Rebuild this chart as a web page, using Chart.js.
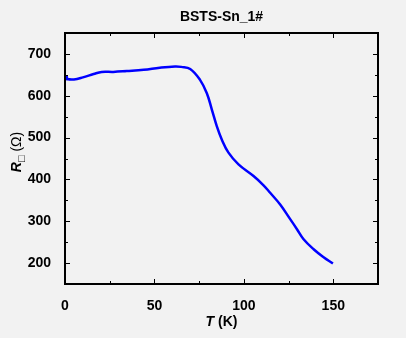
<!DOCTYPE html>
<html>
<head>
<meta charset="utf-8">
<script src="https://cdn.jsdelivr.net/npm/chart.js@4"></script>
<style>
  html, body { margin: 0; padding: 0; background: #f2f2f2; }
  #wrap { width: 406px; height: 338px; }
</style>
</head>
<body>
<div id="wrap"><canvas id="grafico"></canvas></div>
<script>
const titulo = "BSTS-Sn_1#";
const temperaturas = [0.8, 1.0, 1.5, 5, 10, 16, 20.5, 27, 34.5, 44, 53, 61.5, 65, 70, 75.5, 79.3, 82.1, 84.9, 87.7, 91.4, 97, 105.4, 111, 114.7, 120.3, 125.9, 129.7, 133.4, 139, 144.6, 149.8];
const resistencias = [637, 645, 640, 639, 644, 652, 657, 657, 659, 662, 667, 670, 669, 664, 638, 606, 567, 527, 495, 464, 436, 408, 386, 368, 340, 305, 281, 257, 233, 214, 199];
const ticksX = [0, 50, 100, 150];
const ticksY = [200, 300, 400, 500, 600, 700];

const fuente = "'Liberation Sans', Arial, sans-serif";

// marco, ticks hacia adentro y titulos de ejes
const marco = {
  id: "marco",
  afterDraw(chart) {
    const { ctx, chartArea: a, scales } = chart;
    ctx.save();
    ctx.strokeStyle = "#000";
    ctx.lineWidth = 1;
    for (let v = 0; v <= 175; v += 25) {
      const px = Math.round(scales.x.getPixelForValue(v)) + 0.5;
      const len = v % 50 === 0 ? 5 : 3;
      ctx.beginPath();
      ctx.moveTo(px, a.bottom); ctx.lineTo(px, a.bottom - len);
      ctx.moveTo(px, a.top); ctx.lineTo(px, a.top + len);
      ctx.stroke();
    }
    for (let v = 150; v <= 750; v += 50) {
      const py = Math.round(scales.y.getPixelForValue(v)) + 0.5;
      const len = v % 100 === 0 ? 5 : 3;
      ctx.beginPath();
      ctx.moveTo(a.left, py); ctx.lineTo(a.left + len, py);
      ctx.moveTo(a.right, py); ctx.lineTo(a.right - len, py);
      ctx.stroke();
    }
    ctx.lineWidth = 2;
    ctx.strokeRect(a.left, a.top, a.right - a.left, a.bottom - a.top);

    ctx.fillStyle = "#000";
    ctx.textBaseline = "middle";
    // titulo
    ctx.font = "bold 14px " + fuente;
    ctx.textAlign = "center";
    ctx.fillText(titulo, (a.left + a.right) / 2, 17);

    // T (K)
    const cx = (a.left + a.right) / 2;
    ctx.font = "italic bold 14px " + fuente;
    const wT = ctx.measureText("T").width;
    ctx.font = "bold 14px " + fuente;
    const wK = ctx.measureText(" (K)").width;
    let x0 = cx - (wT + wK) / 2;
    ctx.textAlign = "left";
    ctx.font = "italic bold 14px " + fuente;
    ctx.fillText("T", x0, 322);
    ctx.font = "bold 14px " + fuente;
    ctx.fillText(" (K)", x0 + wT, 322);

    // R□ (Ω)
    ctx.translate(17, 152);
    ctx.rotate(-Math.PI / 2);
    ctx.font = "italic bold 14px " + fuente;
    const wR = ctx.measureText("R").width;
    ctx.font = "bold 11px " + fuente;
    const wS = ctx.measureText("□").width;
    ctx.font = "14px " + fuente;
    const wO = ctx.measureText(" (Ω)").width;
    x0 = -(wR + wS + wO) / 2;
    ctx.font = "italic bold 14px " + fuente;
    ctx.fillText("R", x0, 0);
    ctx.font = "bold 11px " + fuente;
    ctx.fillText("□", x0 + wR, 5);
    ctx.font = "14px " + fuente;
    ctx.fillText(" (Ω)", x0 + wR + wS, 0);
    ctx.restore();
  }
};

const config = {
  type: "line",
  data: {
    datasets: [{
      data: temperaturas.map((t, i) => ({ x: t, y: resistencias[i] })),
      borderColor: "#0000ff",
      borderWidth: 2.5,
      pointRadius: 0,
      tension: 0.4,
      fill: false
    }]
  },
  options: {
    responsive: true,
    maintainAspectRatio: false,
    animation: false,
    layout: { padding: { left: 0, right: 28, top: 33, bottom: 0 } },
    plugins: { legend: { display: false }, tooltip: { enabled: false } },
    scales: {
      x: {
        type: "linear",
        min: 0,
        max: 175,
        afterBuildTicks(s) { s.ticks = ticksX.map(v => ({ value: v })); },
        afterFit(s) { s.height = 54; },
        grid: { display: false },
        border: { display: false },
        ticks: { color: "#000", padding: 6, maxRotation: 0, font: { family: fuente, size: 14, weight: "bold" } }
      },
      y: {
        min: 150,
        max: 750,
        afterBuildTicks(s) { s.ticks = ticksY.map(v => ({ value: v })); },
        afterFit(s) { s.width = 65; },
        grid: { display: false },
        border: { display: false },
        ticks: { color: "#000", padding: 6, font: { family: fuente, size: 14, weight: "bold" } }
      }
    }
  },
  plugins: [marco]
};

new Chart(document.getElementById("grafico"), config);
</script>
</body>
</html>
